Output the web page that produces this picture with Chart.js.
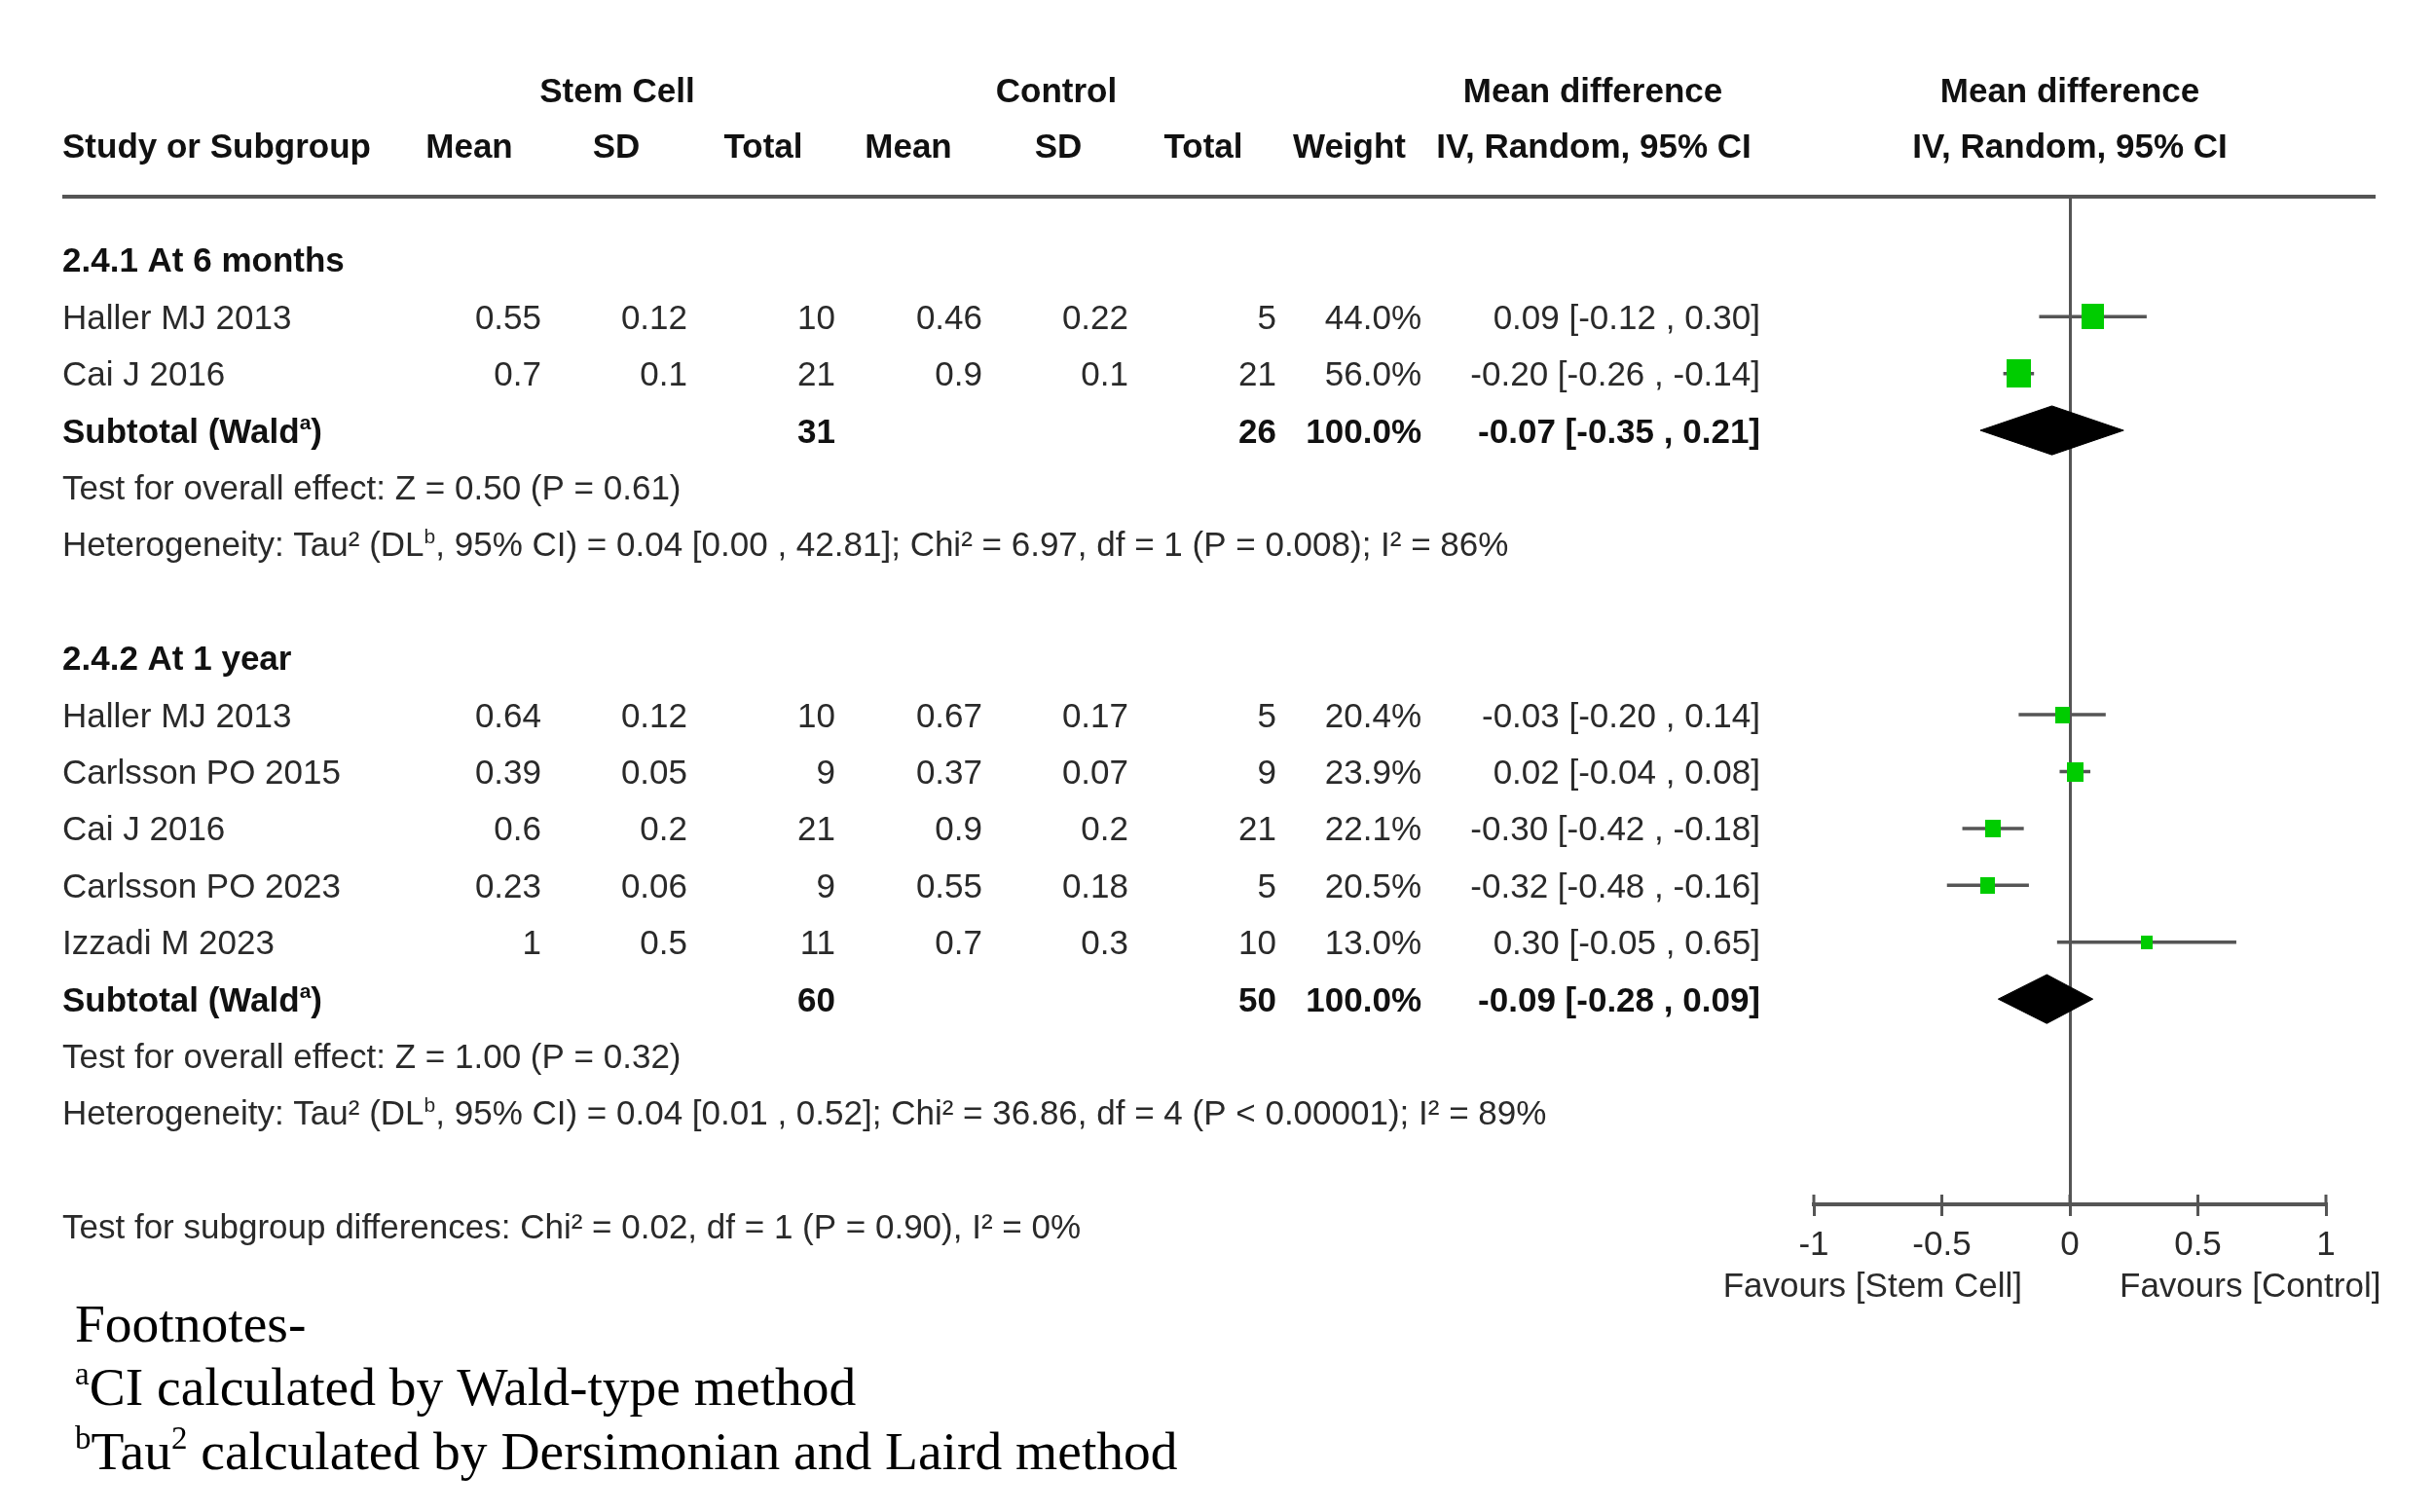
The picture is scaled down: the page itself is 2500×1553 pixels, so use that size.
<!DOCTYPE html>
<html>
<head>
<meta charset="utf-8">
<title>Forest plot - Stem Cell vs Control</title>
<script src="https://cdn.jsdelivr.net/npm/chart.js@4.4.1/dist/chart.umd.min.js"></script>
<style>
  html, body { margin: 0; padding: 0; background: #fff; }
  canvas { display: block; }
</style>
</head>
<body>
<canvas id="forest" width="2500" height="1553"></canvas>
<script>
// ---- data ----
const subgroupTitles = ['2.4.1 At 6 months', '2.4.2 At 1 year'];
const studyNames = ['Haller MJ 2013', 'Cai J 2016', 'Haller MJ 2013', 'Carlsson PO 2015', 'Cai J 2016', 'Carlsson PO 2023', 'Izzadi M 2023'];
const studyGroup = [0, 0, 1, 1, 1, 1, 1];
const stemMean = [0.55, 0.7, 0.64, 0.39, 0.6, 0.23, 1];
const stemSD = [0.12, 0.1, 0.12, 0.05, 0.2, 0.06, 0.5];
const stemN = [10, 21, 10, 9, 21, 9, 11];
const ctrlMean = [0.46, 0.9, 0.67, 0.37, 0.9, 0.55, 0.7];
const ctrlSD = [0.22, 0.1, 0.17, 0.07, 0.2, 0.18, 0.3];
const ctrlN = [5, 21, 5, 9, 21, 5, 10];
const weightPct = [44.0, 56.0, 20.4, 23.9, 22.1, 20.5, 13.0];
const meanDiff = [0.09, -0.20, -0.03, 0.02, -0.30, -0.32, 0.30];
const ciLow = [-0.12, -0.26, -0.20, -0.04, -0.42, -0.48, -0.05];
const ciHigh = [0.30, -0.14, 0.14, 0.08, -0.18, -0.16, 0.65];

const subStemN = [31, 60];
const subCtrlN = [26, 50];
const subMD = [-0.07, -0.09];
const subLow = [-0.35, -0.28];
const subHigh = [0.21, 0.09];
const overallTests = ['Test for overall effect: Z = 0.50 (P = 0.61)', 'Test for overall effect: Z = 1.00 (P = 0.32)'];
const hetTau = ['0.04 [0.00 , 42.81]', '0.04 [0.01 , 0.52]'];
const hetChi = ['6.97', '36.86'];
const hetDf = [1, 4];
const hetP = ['P = 0.008', 'P < 0.00001'];
const hetI2 = [86, 89];
const subgroupTest = 'Test for subgroup differences: Chi² = 0.02, df = 1 (P = 0.90), I² = 0%';

const xTicks = [-1, -0.5, 0, 0.5, 1];
const favours = ['Favours [Stem Cell]', 'Favours [Control]'];

// ---- rows of the table ----
let r = 0;
const titleRow = [], subRow = [], testRow = [], hetRow = [], studyRow = [];
subgroupTitles.forEach((t, g) => {
    titleRow[g] = r++;
    studyNames.forEach((n, i) => { if (studyGroup[i] === g) studyRow[i] = r++; });
    subRow[g] = r++;
    testRow[g] = r++;
    hetRow[g] = r++;
    r++;
});
const subgroupTestRow = r;

const SANS = '"Liberation Sans", Arial, Helvetica, sans-serif';
const SERIF = '"Liberation Serif", "Times New Roman", serif';
const GREEN = '#00cc00';
const LINE = '#555555';

// green boxes, size from weight
const boxImgs = weightPct.map(w => {
    const bw = Math.round(3.4 * Math.sqrt(w));
    const bh = Math.round(bw * 1.15);
    const c = document.createElement('canvas');
    c.width = bw; c.height = bh;
    const g = c.getContext('2d');
    g.fillStyle = GREEN;
    g.fillRect(0, 0, bw, bh);
    return c;
});

const datasets = [];
datasets.push({
    label: 'Studies',
    data: meanDiff.map((m, i) => ({ x: m, y: studyRow[i] })),
    showLine: false,
    pointStyle: ctx => boxImgs[ctx.dataIndex],
    pointRadius: 8,
    order: 0
});
meanDiff.forEach((m, i) => {
    datasets.push({
        label: 'CI ' + studyNames[i],
        data: [{ x: ciLow[i], y: studyRow[i] }, { x: ciHigh[i], y: studyRow[i] }],
        borderColor: LINE,
        borderWidth: 3.5,
        pointRadius: 0,
        order: 1
    });
});
const dh = 0.43; // half height of the diamond in rows
subMD.forEach((m, g) => {
    const yy = subRow[g];
    datasets.push({
        label: 'Subtotal ' + g,
        data: [{ x: subLow[g], y: yy }, { x: m, y: yy - dh }, { x: subHigh[g], y: yy }, { x: m, y: yy + dh }, { x: subLow[g], y: yy }],
        borderColor: '#000',
        borderWidth: 1,
        backgroundColor: '#000',
        fill: 'shape',
        pointRadius: 0,
        order: 1
    });
});

function runs(ctx, parts, x, y, size, weight, family) {
    let cx = x;
    ctx.textAlign = 'left';
    parts.forEach(p => {
        if (typeof p === 'string') {
            ctx.font = weight + ' ' + size + 'px ' + family;
            ctx.fillText(p, cx, y);
            cx += ctx.measureText(p).width;
        } else {
            const ss = Math.round(size * 0.6);
            ctx.font = weight + ' ' + ss + 'px ' + family;
            ctx.fillText(p.sup, cx, y - size * 0.38);
            cx += ctx.measureText(p.sup).width;
        }
    });
}

function put(ctx, s, x, y, align, bold) {
    ctx.font = (bold ? 'bold ' : '') + '35px ' + SANS;
    ctx.textAlign = align;
    ctx.fillText(s, x, y);
}

const colRight = [556, 706, 858, 1009, 1159, 1311, 1460, 1808];
const fmtCI = (m, lo, hi) => m.toFixed(2) + ' [' + lo.toFixed(2) + ' , ' + hi.toFixed(2) + ']';

const tablePlugin = {
    id: 'forestTable',
    afterDraw(chart) {
        const ctx = chart.ctx;
        const xs = chart.scales.x, ys = chart.scales.y;
        const base = v => ys.getPixelForValue(v) + 12.5;
        ctx.save();
        ctx.textBaseline = 'alphabetic';

        // headers
        ctx.fillStyle = '#111';
        put(ctx, 'Stem Cell', 634, 105, 'center', true);
        put(ctx, 'Control', 1085, 105, 'center', true);
        put(ctx, 'Mean difference', 1636, 105, 'center', true);
        put(ctx, 'Mean difference', xs.getPixelForValue(0), 105, 'center', true);
        put(ctx, 'Study or Subgroup', 64, 162, 'left', true);
        put(ctx, 'Mean', 482, 162, 'center', true);
        put(ctx, 'SD', 633, 162, 'center', true);
        put(ctx, 'Total', 784, 162, 'center', true);
        put(ctx, 'Mean', 933, 162, 'center', true);
        put(ctx, 'SD', 1087, 162, 'center', true);
        put(ctx, 'Total', 1236, 162, 'center', true);
        put(ctx, 'Weight', 1386, 162, 'center', true);
        put(ctx, 'IV, Random, 95% CI', 1637, 162, 'center', true);
        put(ctx, 'IV, Random, 95% CI', xs.getPixelForValue(0), 162, 'center', true);

        // header rule
        ctx.strokeStyle = LINE;
        ctx.lineWidth = 4;
        ctx.beginPath();
        ctx.moveTo(64, chart.chartArea.top);
        ctx.lineTo(2440, chart.chartArea.top);
        ctx.stroke();

        subgroupTitles.forEach((t, g) => {
            ctx.fillStyle = '#111';
            put(ctx, t, 64, base(titleRow[g]), 'left', true);
            ctx.fillStyle = '#2a2a2a';
            studyNames.forEach((n, i) => {
                if (studyGroup[i] !== g) return;
                const yb = base(studyRow[i]);
                put(ctx, n, 64, yb, 'left', false);
                const cells = [String(stemMean[i]), String(stemSD[i]), String(stemN[i]),
                    String(ctrlMean[i]), String(ctrlSD[i]), String(ctrlN[i]),
                    weightPct[i].toFixed(1) + '%', fmtCI(meanDiff[i], ciLow[i], ciHigh[i])];
                cells.forEach((c, k) => put(ctx, c, colRight[k], yb, 'right', false));
            });
            ctx.fillStyle = '#111';
            const ys2 = base(subRow[g]);
            runs(ctx, ['Subtotal (Wald', { sup: 'a' }, ')'], 64, ys2, 35, 'bold', SANS);
            put(ctx, String(subStemN[g]), colRight[2], ys2, 'right', true);
            put(ctx, String(subCtrlN[g]), colRight[5], ys2, 'right', true);
            put(ctx, '100.0%', colRight[6], ys2, 'right', true);
            put(ctx, fmtCI(subMD[g], subLow[g], subHigh[g]), colRight[7], ys2, 'right', true);
            ctx.fillStyle = '#2a2a2a';
            put(ctx, overallTests[g], 64, base(testRow[g]), 'left', false);
            runs(ctx, ['Heterogeneity: Tau² (DL', { sup: 'b' },
                ', 95% CI) = ' + hetTau[g] + '; Chi² = ' + hetChi[g] + ', df = ' + hetDf[g] +
                ' (' + hetP[g] + '); I² = ' + hetI2[g] + '%'], 64, base(hetRow[g]), 35, '', SANS);
        });
        put(ctx, subgroupTest, 64, base(subgroupTestRow), 'left', false);

        // small tick marks above the axis line
        ctx.strokeStyle = LINE;
        ctx.lineWidth = 3;
        xs.ticks.forEach(t => {
            const px = xs.getPixelForValue(t.value);
            ctx.beginPath();
            ctx.moveTo(px, chart.chartArea.bottom - 10);
            ctx.lineTo(px, chart.chartArea.bottom);
            ctx.stroke();
        });

        // favours labels
        ctx.fillStyle = '#2a2a2a';
        const zx = xs.getPixelForValue(0);
        put(ctx, favours[0], zx - 49, 1332, 'right', false);
        put(ctx, favours[1], zx + 51, 1332, 'left', false);

        // footnotes
        ctx.fillStyle = '#000';
        runs(ctx, ['Footnotes-'], 77, 1378, 55.5, '', SERIF);
        runs(ctx, [{ sup: 'a' }, 'CI calculated by Wald-type method'], 77, 1443, 55.5, '', SERIF);
        runs(ctx, [{ sup: 'b' }, 'Tau', { sup: '2' }, ' calculated by Dersimonian and Laird method'], 77, 1509, 55.5, '', SERIF);
        ctx.restore();
    }
};

Chart.defaults.font.family = SANS;

new Chart(document.getElementById('forest'), {
    type: 'line',
    data: { datasets: datasets },
    plugins: [tablePlugin],
    options: {
        responsive: false,
        animation: false,
        devicePixelRatio: 1,
        layout: { padding: { left: 1863, right: 111, top: 202, bottom: 256 } },
        plugins: { legend: { display: false }, tooltip: { enabled: false } },
        scales: {
            x: {
                type: 'linear',
                min: -1,
                max: 1,
                afterBuildTicks: s => { s.ticks = xTicks.map(v => ({ value: v })); },
                afterFit: s => { s.height = 60; },
                ticks: {
                    autoSkip: false, maxRotation: 0, color: '#2a2a2a', font: { size: 35 }, padding: 9,
                    callback: v => String(v)
                },
                grid: {
                    color: c => (c.tick && c.tick.value === 0) ? LINE : 'rgba(0,0,0,0)',
                    lineWidth: 3,
                    drawTicks: true,
                    tickLength: 12,
                    tickColor: LINE,
                    tickWidth: 3
                },
                border: { display: true, color: LINE, width: 4 }
            },
            y: {
                type: 'linear',
                min: -1.11,
                max: 16.61,
                reverse: true,
                display: false
            }
        }
    }
});
</script>
</body>
</html>
